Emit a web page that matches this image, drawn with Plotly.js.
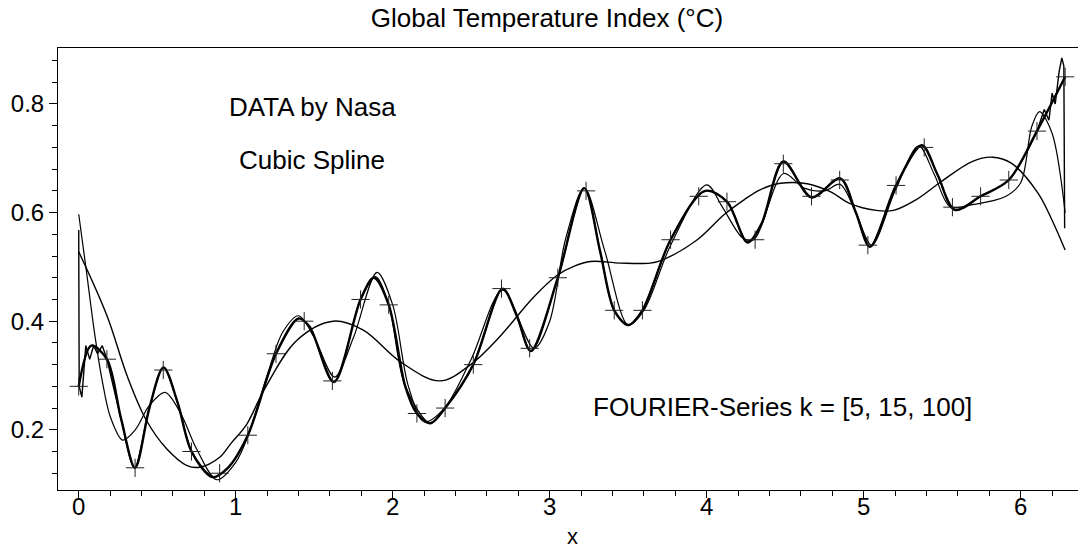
<!DOCTYPE html>
<html>
<head>
<meta charset="utf-8">
<script src="https://cdn.plot.ly/plotly-3.0.1.min.js"></script>
<style>
html,body{margin:0;padding:0;overflow:hidden;background:#fff;}
#chart{width:1094px;height:548px;}
</style>
</head>
<body>
<div id="chart"></div>
<script>
// NASA data points (x in [0, 2*pi])
const dataX = [0, 0.1795, 0.3590, 0.5386, 0.7181, 0.8976, 1.0771, 1.2566, 1.4362, 1.6157,
  1.7952, 1.9747, 2.1542, 2.3338, 2.5133, 2.6928, 2.8723, 3.0518, 3.2314, 3.4109,
  3.5904, 3.7699, 3.9494, 4.1290, 4.3085, 4.4880, 4.6675, 4.8470, 5.0265, 5.2061,
  5.3856, 5.5651, 5.7446, 5.9241, 6.1037, 6.2832];
const dataY = [0.28, 0.33, 0.13, 0.31, 0.16, 0.12, 0.19, 0.34, 0.40, 0.29,
  0.44, 0.43, 0.23, 0.24, 0.32, 0.46, 0.35, 0.48, 0.64, 0.42,
  0.42, 0.55, 0.63, 0.62, 0.55, 0.69, 0.63, 0.66, 0.54, 0.65,
  0.72, 0.61, 0.63, 0.66, 0.75, 0.85];

// Cubic spline through the data (incl. its extrema)
const splineX = [0, 0.08, 0.1795, 0.27, 0.359, 0.45, 0.54, 0.63, 0.7181, 0.85, 0.95, 1.0771, 1.2566, 1.40, 1.47, 1.625, 1.7952, 1.88, 1.9747, 2.08, 2.1542, 2.24, 2.3338, 2.5133, 2.70, 2.79, 2.88, 3.0518, 3.22, 3.32, 3.4109, 3.50, 3.5904, 3.7699, 3.99, 4.129, 4.26, 4.35, 4.488, 4.6675, 4.85, 4.95, 5.04, 5.2061, 5.37, 5.47, 5.58, 5.7446, 5.9241, 6.1037, 6.2832];
const splineY = [0.28, 0.355, 0.33, 0.22, 0.13, 0.24, 0.315, 0.25, 0.16, 0.113, 0.13, 0.19, 0.34, 0.405, 0.39, 0.288, 0.44, 0.48, 0.43, 0.28, 0.23, 0.212, 0.24, 0.32, 0.46, 0.41, 0.345, 0.48, 0.645, 0.53, 0.42, 0.393, 0.42, 0.55, 0.64, 0.62, 0.545, 0.58, 0.694, 0.628, 0.663, 0.60, 0.537, 0.65, 0.724, 0.67, 0.605, 0.63, 0.66, 0.75, 0.85];

// Fourier series k = 5
const k5X = [0, 0.18, 0.31, 0.43, 0.56, 0.69, 0.77, 0.90, 0.97, 1.07, 1.18, 1.39, 1.62, 1.81, 2.05, 2.30, 2.50, 2.68, 2.90, 3.05, 3.16, 3.26, 3.45, 3.64, 3.72, 3.94, 4.11, 4.24, 4.34, 4.47, 4.64, 4.79, 4.91, 5.08, 5.19, 5.33, 5.48, 5.69, 5.82, 5.94, 6.11, 6.20, 6.2832];
const k5Y = [0.528, 0.41, 0.298, 0.218, 0.165, 0.134, 0.131, 0.15, 0.175, 0.21, 0.273, 0.365, 0.40, 0.384, 0.325, 0.290, 0.321, 0.371, 0.445, 0.485, 0.502, 0.510, 0.507, 0.507, 0.513, 0.550, 0.596, 0.624, 0.642, 0.654, 0.653, 0.638, 0.617, 0.604, 0.604, 0.623, 0.654, 0.694, 0.702, 0.691, 0.636, 0.586, 0.531];

// Fourier series k = 15
const k15X = [0, 0.05, 0.10, 0.15, 0.20, 0.28, 0.36, 0.45, 0.55, 0.65, 0.75, 0.88, 1.0, 1.08, 1.2, 1.3, 1.4, 1.5, 1.63, 1.75, 1.9, 2.0, 2.1, 2.2, 2.33, 2.5, 2.7, 2.9, 3.0, 3.1, 3.22, 3.35, 3.5, 3.6, 3.77, 4.0, 4.1, 4.23, 4.3, 4.49, 4.62, 4.75, 4.85, 4.95, 5.05, 5.2, 5.35, 5.45, 5.55, 5.7, 5.9, 6.0, 6.07, 6.12, 6.2, 6.2832];
const k15Y = [0.597, 0.49, 0.38, 0.29, 0.225, 0.181, 0.20, 0.245, 0.269, 0.23, 0.165, 0.108, 0.14, 0.19, 0.30, 0.38, 0.41, 0.37, 0.297, 0.37, 0.49, 0.43, 0.28, 0.215, 0.24, 0.33, 0.457, 0.35, 0.40, 0.55, 0.645, 0.53, 0.393, 0.42, 0.54, 0.651, 0.61, 0.553, 0.55, 0.672, 0.645, 0.64, 0.652, 0.60, 0.54, 0.64, 0.723, 0.67, 0.611, 0.615, 0.629, 0.655, 0.758, 0.786, 0.746, 0.60];

// Fourier series k = 100: left Gibbs edge, body, right Gibbs edge
const k100LeftX = [0, 0.003, 0.02, 0.045, 0.07, 0.095, 0.12, 0.15, 0.18];
const k100LeftY = [0.568, 0.28, 0.26, 0.355, 0.33, 0.355, 0.34, 0.355, 0.33];
const k100MidX = [0.18, 0.27, 0.355, 0.45, 0.54, 0.63, 0.72, 0.86, 0.95, 1.077, 1.257, 1.40, 1.47, 1.625, 1.795, 1.89, 1.975, 2.08, 2.24, 2.334, 2.513, 2.70, 2.79, 2.88, 3.052, 3.22, 3.32, 3.41, 3.50, 3.59, 3.77, 3.99, 4.129, 4.26, 4.35, 4.49, 4.667, 4.85, 4.95, 5.04, 5.206, 5.37, 5.47, 5.58, 5.745, 5.924, 6.104];
const k100MidY = [0.33, 0.22, 0.13, 0.24, 0.315, 0.25, 0.16, 0.113, 0.13, 0.19, 0.34, 0.405, 0.39, 0.288, 0.44, 0.482, 0.43, 0.28, 0.212, 0.24, 0.32, 0.46, 0.41, 0.345, 0.48, 0.645, 0.53, 0.42, 0.393, 0.42, 0.55, 0.64, 0.62, 0.545, 0.58, 0.694, 0.628, 0.663, 0.60, 0.537, 0.65, 0.724, 0.67, 0.605, 0.63, 0.66, 0.75];
const k100RightX = [6.104, 6.15, 6.18, 6.20, 6.22, 6.245, 6.262, 6.275, 6.28];
const k100RightY = [0.75, 0.79, 0.77, 0.82, 0.80, 0.86, 0.885, 0.87, 0.571];

const titleText = 'Global Temperature Index (°C)';
const xTitleText = 'x';
const noteTexts = ['DATA by Nasa', 'Cubic Spline', 'FOURIER-Series k = [5, 15, 100]'];

const FONT = 'Liberation Sans, Arial, Helvetica, sans-serif';
const lineC = '#000';
const X_RANGE = [-0.132, 6.416];

const traces = [
  {x: k5X, y: k5Y, mode: 'lines', line: {color: lineC, width: 1.4, shape: 'spline', smoothing: 1}, hoverinfo: 'skip'},
  {x: k15X, y: k15Y, mode: 'lines', line: {color: lineC, width: 1.2, shape: 'spline', smoothing: 0.9}, hoverinfo: 'skip'},
  {x: k100MidX, y: k100MidY, mode: 'lines', line: {color: lineC, width: 1.4, shape: 'spline', smoothing: 0.9}, hoverinfo: 'skip'},
  {x: splineX, y: splineY, mode: 'lines', line: {color: lineC, width: 2.4, shape: 'spline', smoothing: 0.9}, hoverinfo: 'skip'},
  {x: k100LeftX, y: k100LeftY, mode: 'lines', line: {color: lineC, width: 1.4}, hoverinfo: 'skip'},
  {x: k100RightX, y: k100RightY, mode: 'lines', line: {color: lineC, width: 1.4}, hoverinfo: 'skip'},
  {x: dataX, y: dataY, mode: 'markers', marker: {symbol: 'cross-thin-open', size: 13, color: '#222', line: {color: '#222', width: 1}}, hoverinfo: 'skip'},
  // carrier for the tick-label axis (draws nothing)
  {x: dataX, y: dataY, xaxis: 'x2', mode: 'none', hoverinfo: 'skip'}
];

const layout = {
  width: 1094, height: 548,
  margin: {l: 58, r: 8, t: 48, b: 58},
  paper_bgcolor: '#fff', plot_bgcolor: '#fff',
  showlegend: false,
  font: {family: FONT, color: '#000', size: 24},
  title: {text: titleText, x: 0.5, xanchor: 'center', y: 0.967, yanchor: 'middle', font: {family: FONT, size: 26, color: '#000'}},
  xaxis: {
    range: X_RANGE, dtick: 1, tick0: 0,
    ticks: 'outside', ticklen: 7, tickwidth: 1, tickcolor: '#000',
    showline: true, linecolor: '#000', linewidth: 1, mirror: true,
    showgrid: false, zeroline: false, showticklabels: false,
    minor: {dtick: 0.2, tick0: 0, ticks: 'outside', ticklen: 5, tickwidth: 1, tickcolor: '#000', showgrid: false}
  },
  xaxis2: {
    overlaying: 'x', anchor: 'y', side: 'bottom',
    range: X_RANGE, dtick: 1, tick0: 0, ticks: '',
    showline: false, showgrid: false, zeroline: false,
    tickfont: {family: FONT, size: 24, color: '#000'}
  },
  yaxis: {
    range: [0.0891, 0.9031], dtick: 0.2, tick0: 0,
    ticks: 'outside', ticklen: 8, tickwidth: 1, tickcolor: '#000',
    showline: true, linecolor: '#000', linewidth: 1, mirror: false,
    showgrid: false, zeroline: false,
    minor: {dtick: 0.04, tick0: 0, ticks: 'outside', ticklen: 5, tickwidth: 1, tickcolor: '#000', showgrid: false},
    tickfont: {family: FONT, size: 24, color: '#000'}
  },
  annotations: [
    {x: 1.486, y: 0.7945, xref: 'x', yref: 'y', text: noteTexts[0], showarrow: false, xanchor: 'center', yanchor: 'middle', font: {family: FONT, size: 26, color: '#000'}},
    {x: 1.486, y: 0.697, xref: 'x', yref: 'y', text: noteTexts[1], showarrow: false, xanchor: 'center', yanchor: 'middle', font: {family: FONT, size: 26, color: '#000'}},
    {x: 4.485, y: 0.242, xref: 'x', yref: 'y', text: noteTexts[2], showarrow: false, xanchor: 'center', yanchor: 'middle', font: {family: FONT, size: 26, color: '#000'}},
    {x: 0.5, y: -0.106, xref: 'paper', yref: 'paper', text: xTitleText, showarrow: false, xanchor: 'center', yanchor: 'middle', font: {family: FONT, size: 22, color: '#000'}}
  ]
};

Plotly.newPlot('chart', traces, layout, {staticPlot: true, displayModeBar: false});
</script>
</body>
</html>
